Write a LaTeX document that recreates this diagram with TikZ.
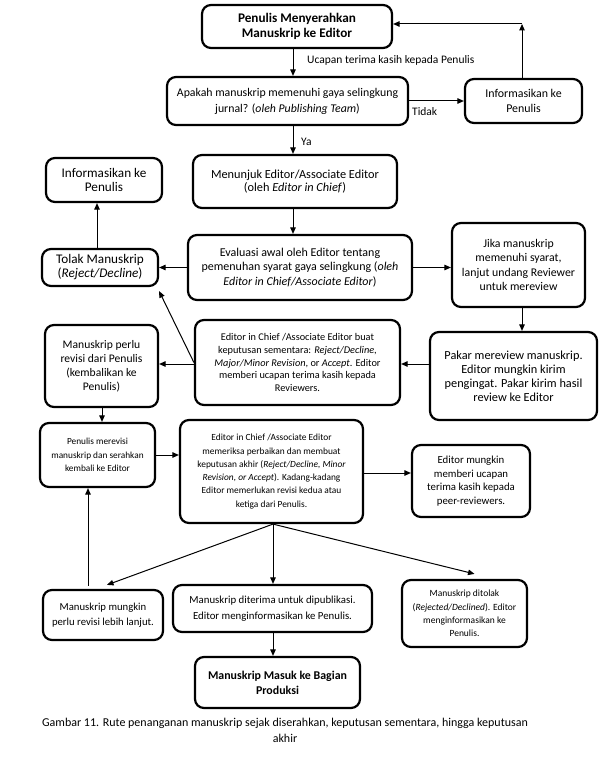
\documentclass[tikz,border=0pt]{standalone}
\usepackage{fontspec}
\setmainfont{Carlito}
\usetikzlibrary{arrows.meta,calc}
\newcommand{\myfs}[2]{\fontsize{#1pt}{#2pt}\selectfont}
\begin{document}
\begin{tikzpicture}[x=1pt,y=-1pt,
  box/.style={draw, line width=2.2pt, rounded corners=9pt, align=center, inner sep=1pt},
  arr/.style={-{Triangle[length=6.5pt,width=5.5pt]}, line width=1pt},
  lbl/.style={font=\myfs{11.5}{14}, inner sep=0pt}]
\useasboundingbox (0,0) rectangle (615,767);
\fill[white] (0,0) rectangle (615,767);

% helper coordinates for straight connectors
\coordinate (cx) at (293,0);
\coordinate (corner) at (522,24);
\coordinate (cTL) at (97,0);
\coordinate (cR) at (522,0);
\coordinate (cy1) at (0,364);
\coordinate (cRev) at (102,0);
\coordinate (cy2) at (0,455);
\coordinate (cy3) at (0,473);
\coordinate (cL) at (88,0);
\coordinate (cM) at (273,0);

% nodes
\node[box, minimum width=190pt, minimum height=43pt, font=\bfseries\myfs{13.2}{15}] (top) at (297,26.5) {Penulis Menyerahkan\\Manuskrip ke Editor};
\node[box, minimum width=241pt, minimum height=48pt, font=\myfs{11.8}{16}] (q) at (287.5,101) {Apakah manuskrip memenuhi gaya selingkung\\jurnal? (\textit{oleh Publishing Team})};
\node[box, minimum width=117pt, minimum height=44pt, font=\myfs{11.9}{14.3}] (infoR) at (523.5,101) {Informasikan ke\\Penulis};
\node[box, minimum width=204pt, minimum height=53pt, font=\myfs{12.3}{13.5}] (menunjuk) at (295,181.5) {Menunjuk Editor/Associate Editor\\(oleh \textit{Editor in Chief})};
\node[box, minimum width=224pt, minimum height=65pt, font=\myfs{12}{14.2}] (eval) at (300,267.5) {Evaluasi awal oleh Editor tentang\\pemenuhan syarat gaya selingkung (\textit{oleh}\\\textit{Editor in Chief/Associate Editor})};
\node[box, minimum width=116pt, minimum height=44pt, font=\myfs{13.2}{14}] (infoL) at (104,180) {Informasikan ke\\Penulis};
\node[box, minimum width=116pt, minimum height=37pt, font=\myfs{13.2}{14}] (tolak) at (100,267.5) {Tolak Manuskrip\\(\textit{Reject/Decline})};
\node[box, minimum width=133pt, minimum height=84pt, font=\myfs{11.8}{14.4}] (jika) at (518.5,265) {Jika manuskrip\\memenuhi syarat,\\lanjut undang Reviewer\\untuk mereview};
\node[box, minimum width=167pt, minimum height=88pt, font=\myfs{12.3}{13.9}] (pakar) at (513.5,376) {Pakar mereview manuskrip.\\Editor mungkin kirim\\pengingat. Pakar kirim hasil\\review ke Editor};
\node[box, minimum width=205pt, minimum height=85pt, font=\myfs{10.3}{12.7}] (eic1) at (297.5,362.5) {Editor in Chief /Associate Editor buat\\keputusan sementara: \textit{Reject/Decline},\\\textit{Major/Minor Revision}, or \textit{Accept}. Editor\\memberi ucapan terima kasih kepada\\Reviewers.};
\node[box, minimum width=113pt, minimum height=82pt, font=\myfs{11.6}{14.1}] (revisi) at (101.5,366) {Manuskrip perlu\\revisi dari Penulis\\(kembalikan ke\\Penulis)};
\node[box, minimum width=115pt, minimum height=64pt, font=\myfs{9.3}{13.3}] (merevisi) at (97.5,455) {Penulis merevisi\\manuskrip dan serahkan\\kembali ke Editor};
\node[box, minimum width=183pt, minimum height=103pt, font=\myfs{9.4}{13.3}] (eic2) at (271.5,471.5) {Editor in Chief /Associate Editor\\memeriksa perbaikan dan membuat\\keputusan akhir (\textit{Reject/Decline, Minor}\\\textit{Revision, or Accept}). Kadang-kadang\\Editor memerlukan revisi kedua atau\\ketiga dari Penulis.};
\node[box, minimum width=118pt, minimum height=72pt, font=\myfs{10.8}{13.6}] (edmungkin) at (471,481) {Editor mungkin\\memberi ucapan\\terima kasih kepada\\peer-reviewers.};
\node[box, minimum width=120pt, minimum height=50pt, font=\myfs{10.7}{14.5}] (mungkin) at (103,615) {Manuskrip mungkin\\perlu revisi lebih lanjut.};
\node[box, minimum width=199pt, minimum height=47pt, font=\myfs{10.8}{16}] (diterima) at (272.5,608.5) {Manuskrip diterima untuk dipublikasi.\\Editor menginformasikan ke Penulis.};
\node[box, minimum width=125pt, minimum height=67pt, font=\myfs{9.5}{13.3}] (ditolak) at (464.5,613.5) {Manuskrip ditolak\\(\textit{Rejected/Declined}). Editor\\menginformasikan ke\\Penulis.};
\node[box, minimum width=165pt, minimum height=51pt, font=\bfseries\myfs{11.9}{15}] (produksi) at (277.5,682.5) {Manuskrip Masuk ke Bagian\\Produksi};
\node[align=center, font=\myfs{12}{16}, inner sep=0pt] (cap) at (285,730) {Gambar 11. Rute penanganan manuskrip sejak diserahkan, keputusan sementara, hingga keputusan\\akhir};

% labels on connectors
\node[lbl, anchor=west] (lucapan) at (307,60) {Ucapan terima kasih kepada Penulis};
\node[lbl, anchor=west] (ltidak) at (412,112) {Tidak};
\node[lbl, anchor=west] (lya) at (301,142) {Ya};

% connectors
\draw[arr] (top.south -| cx) -- (q.north -| cx);
\draw[arr] (q.east) -- (infoR.west);
\draw[arr] (infoR.north -| corner) -- (corner);
\draw[arr] (corner) -- (top.east |- corner);
\draw[arr] (q.south -| cx) -- (menunjuk.north -| cx);
\draw[arr] (menunjuk.south -| cx) -- (eval.north -| cx);
\draw[arr] (eval.west) -- (tolak.east);
\draw[arr] (tolak.north -| cTL) -- (infoL.south -| cTL);
\draw[arr] (eval.east) -- (jika.west |- eval.east);
\draw[arr] (jika.south -| cR) -- (pakar.north -| cR);
\draw[arr] (pakar.west |- cy1) -- (eic1.east |- cy1);
\draw[arr] (eic1.west |- cy1) -- (revisi.east |- cy1);
\draw[arr] (eic1.west) -- ($(tolak.south east)+(0,4)$);
\draw[arr] (revisi.south -| cRev) -- (merevisi.north -| cRev);
\draw[arr] (merevisi.east |- cy2) -- (eic2.west |- cy2);
\draw[arr] (eic2.east |- cy3) -- (edmungkin.west |- cy3);
\draw[arr] (eic2.south -| cM) -- ($(mungkin.north)+(4,-4)$);
\draw[arr] (eic2.south -| cM) -- (diterima.north -| cM);
\draw[arr] (eic2.south -| cM) -- ($(ditolak.north)+(10,-5)$);
\draw[arr] ($(mungkin.north -| cL)+(0,-3)$) -- (merevisi.south -| cL);
\draw[arr] (diterima.south -| cM) -- (produksi.north -| cM);
\end{tikzpicture}
\end{document}
